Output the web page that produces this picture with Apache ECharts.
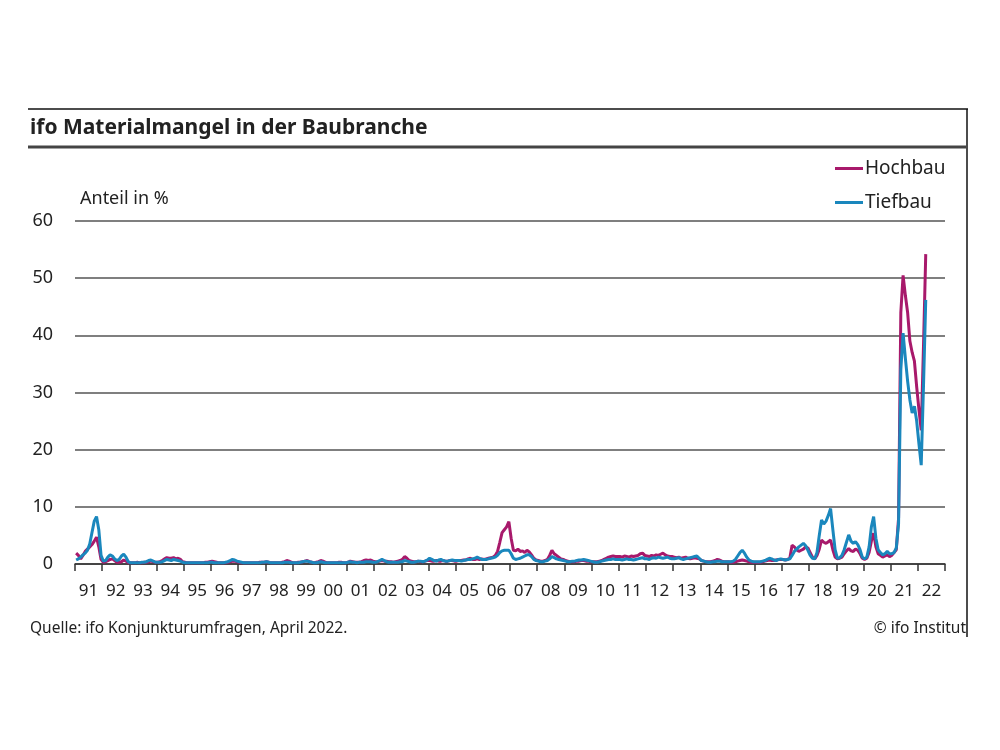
<!DOCTYPE html>
<html>
<head>
<meta charset="utf-8">
<script src="https://cdn.jsdelivr.net/npm/echarts@6/dist/echarts.min.js"></script>
<style>
  html, body { margin: 0; padding: 0; background: #fff; }
  #chart { width: 1000px; height: 750px; }
</style>
</head>
<body>
<div id="chart"></div>
<script>
// Monatswerte ab Januar 1991, Anteil in %
var startYear = 1991;
var yearLabels = ['91','92','93','94','95','96','97','98','99','00','01','02','03','04','05','06',
                  '07','08','09','10','11','12','13','14','15','16','17','18','19','20','21','22'];
var hochbau = [
  1.9,1.5,0.9,1.5,2.2,2.6,3.0,3.4,4.0,4.7,3.0,0.8,   // 1991
  0.3,0.4,0.6,0.8,0.9,0.6,0.3,0.3,0.4,0.7,0.5,0.2,
  0.2,0.2,0.2,0.3,0.2,0.2,0.3,0.3,0.4,0.5,0.4,0.3,
  0.3,0.4,0.6,0.9,1.1,1.0,1.0,1.1,0.9,1.0,0.8,0.4,
  0.3,0.2,0.2,0.2,0.2,0.2,0.2,0.2,0.2,0.3,0.3,0.4,   // 1995
  0.5,0.4,0.3,0.2,0.2,0.2,0.2,0.3,0.4,0.5,0.5,0.4,
  0.3,0.2,0.2,0.2,0.2,0.2,0.2,0.2,0.2,0.3,0.3,0.3,
  0.4,0.3,0.2,0.2,0.2,0.2,0.2,0.3,0.4,0.6,0.5,0.3,
  0.2,0.2,0.3,0.3,0.4,0.5,0.6,0.4,0.3,0.2,0.3,0.4,
  0.6,0.5,0.3,0.2,0.2,0.2,0.2,0.2,0.3,0.3,0.2,0.2,   // 2000
  0.3,0.5,0.4,0.3,0.3,0.3,0.4,0.6,0.7,0.6,0.7,0.5,
  0.4,0.4,0.5,0.6,0.5,0.5,0.4,0.4,0.3,0.4,0.5,0.6,
  0.8,1.3,1.0,0.6,0.5,0.4,0.4,0.5,0.4,0.4,0.5,0.6,
  0.6,0.5,0.5,0.6,0.5,0.5,0.6,0.5,0.5,0.6,0.6,0.5,
  0.5,0.6,0.6,0.7,0.7,0.9,1.0,0.8,0.8,0.9,0.8,0.9,   // 2005
  0.8,0.9,1.0,1.1,1.2,1.5,2.2,3.8,5.5,6.0,6.5,7.4,
  4.5,2.4,2.3,2.6,2.2,2.3,2.0,2.4,2.1,1.6,1.0,0.7,
  0.6,0.5,0.5,0.6,0.8,1.5,2.4,1.8,1.5,1.2,0.9,0.8,
  0.6,0.5,0.4,0.4,0.4,0.5,0.5,0.6,0.6,0.5,0.5,0.4,
  0.4,0.4,0.4,0.5,0.6,0.8,1.0,1.2,1.3,1.4,1.3,1.3,   // 2010
  1.3,1.2,1.4,1.3,1.2,1.4,1.3,1.4,1.5,1.8,1.9,1.5,
  1.4,1.3,1.5,1.4,1.6,1.5,1.7,1.9,1.6,1.4,1.3,1.3,
  1.2,1.1,1.2,1.0,1.1,1.2,1.0,0.9,1.0,1.1,1.0,0.9,
  0.6,0.5,0.4,0.4,0.4,0.5,0.6,0.8,0.7,0.5,0.4,0.4,
  0.4,0.3,0.3,0.4,0.5,0.6,0.7,0.6,0.5,0.4,0.3,0.3,   // 2015
  0.3,0.3,0.3,0.4,0.5,0.6,0.7,0.6,0.6,0.7,0.8,0.8,
  0.8,0.7,0.8,1.0,3.3,3.0,2.5,2.2,2.4,2.6,3.0,2.8,
  2.0,1.2,0.9,1.5,2.6,4.2,3.8,3.6,3.9,4.2,2.5,1.2,
  0.9,1.0,1.2,1.8,2.3,2.7,2.3,2.2,2.6,2.4,1.8,1.0,
  0.8,1.0,2.0,4.0,5.4,3.0,1.8,1.5,1.2,1.4,1.6,1.3,   // 2020
  1.5,2.0,2.5,8.0,44.0,50.5,47.0,44.0,39.0,37.0,35.5,31.0,
  27.0,23.4,38.0,54.2                                  // 2022
];
var tiefbau = [
  0.7,0.9,1.2,1.6,1.9,2.4,3.5,5.5,7.5,8.3,6.0,1.5,   // 1991
  0.5,0.6,1.2,1.6,1.4,0.9,0.6,0.8,1.4,1.7,1.2,0.4,
  0.2,0.2,0.2,0.2,0.2,0.3,0.3,0.4,0.6,0.7,0.5,0.3,
  0.3,0.3,0.4,0.6,0.8,0.7,0.6,0.8,0.7,0.6,0.5,0.3,
  0.2,0.2,0.2,0.2,0.2,0.2,0.2,0.2,0.2,0.2,0.2,0.3,   // 1995
  0.3,0.2,0.2,0.2,0.2,0.2,0.3,0.4,0.6,0.8,0.7,0.5,
  0.4,0.3,0.2,0.2,0.2,0.2,0.2,0.2,0.2,0.2,0.3,0.3,
  0.4,0.3,0.2,0.2,0.2,0.2,0.2,0.2,0.3,0.3,0.3,0.2,
  0.2,0.2,0.2,0.3,0.4,0.5,0.5,0.4,0.3,0.2,0.2,0.3,
  0.4,0.3,0.2,0.2,0.2,0.2,0.2,0.2,0.2,0.2,0.2,0.2,   // 2000
  0.3,0.4,0.3,0.3,0.2,0.3,0.3,0.3,0.4,0.4,0.4,0.3,
  0.3,0.4,0.6,0.8,0.6,0.4,0.3,0.3,0.3,0.3,0.3,0.4,
  0.4,0.6,0.5,0.4,0.3,0.3,0.4,0.5,0.5,0.4,0.5,0.7,
  1.0,0.8,0.6,0.5,0.7,0.8,0.6,0.5,0.5,0.6,0.7,0.6,
  0.6,0.6,0.5,0.6,0.7,0.8,0.8,0.9,1.0,1.2,1.0,0.8,   // 2005
  0.8,0.8,0.9,1.0,1.1,1.2,1.5,2.0,2.3,2.4,2.4,2.4,
  1.8,1.0,0.8,0.9,1.0,1.2,1.4,1.6,1.6,1.3,0.8,0.6,
  0.5,0.4,0.4,0.5,0.6,0.9,1.3,1.1,0.9,0.8,0.7,0.6,
  0.5,0.4,0.4,0.5,0.5,0.6,0.7,0.7,0.8,0.7,0.6,0.5,
  0.4,0.3,0.3,0.4,0.5,0.6,0.7,0.8,0.8,0.9,0.8,0.8,   // 2010
  0.8,0.7,0.8,0.9,0.8,0.8,0.7,0.8,0.9,1.0,1.1,0.9,
  0.9,0.8,1.0,1.1,1.0,1.2,1.1,1.0,1.1,1.2,1.0,0.9,
  0.9,1.0,1.1,0.9,0.8,0.9,1.0,1.1,1.2,1.3,1.4,1.0,
  0.6,0.5,0.4,0.3,0.3,0.4,0.4,0.5,0.5,0.4,0.4,0.4,
  0.4,0.4,0.5,0.8,1.4,2.0,2.4,1.9,1.2,0.7,0.5,0.4,   // 2015
  0.4,0.4,0.4,0.5,0.6,0.8,1.0,0.9,0.7,0.6,0.8,0.9,
  0.8,0.7,0.8,0.9,1.5,2.2,2.6,3.0,3.3,3.6,3.2,2.4,
  1.5,1.0,0.9,2.0,5.0,7.7,7.0,7.5,8.5,9.7,6.0,2.5,
  1.0,1.1,1.5,2.5,3.8,5.1,4.0,3.6,3.9,3.4,2.5,1.2,
  0.9,1.2,3.0,6.5,8.3,4.5,2.5,2.0,1.6,1.8,2.2,1.8,   // 2020
  1.8,2.0,2.8,7.0,34.0,40.4,36.0,32.0,28.7,26.4,27.6,25.0,
  21.0,17.3,31.0,46.2                                  // 2022
];
var yTicks = [0, 10, 20, 30, 40, 50, 60];

function toPoints(values) {
  return values.map(function (v, i) {
    return [startYear + (i + 0.5) / 12, v];
  });
}

var font = '"Noto Sans", sans-serif';
var chart = echarts.init(document.getElementById('chart'), null, {renderer: 'canvas'});

chart.setOption({
  animation: false,
  backgroundColor: '#fff',
  graphic: [
    {type: 'line', shape: {x1: 28, y1: 109, x2: 968, y2: 109}, style: {stroke: '#111', lineWidth: 1.5}},
    {type: 'line', shape: {x1: 967, y1: 109, x2: 967, y2: 637}, style: {stroke: '#111', lineWidth: 1.5}},
    {type: 'line', shape: {x1: 28, y1: 147, x2: 966, y2: 147}, style: {stroke: '#444', lineWidth: 3}},
    {type: 'text', left: 30, top: 118, style: {text: 'ifo Materialmangel in der Baubranche', font: 'bold 21px ' + font, fill: '#222'}},
    {type: 'text', left: 80, top: 190, style: {text: 'Anteil in %', font: '18px ' + font, fill: '#222'}},
    {type: 'text', left: 30, top: 621, style: {text: 'Quelle: ifo Konjunkturumfragen, April 2022.', font: '15.5px ' + font, fill: '#222'}},
    {type: 'text', right: 34, top: 621, style: {text: '© ifo Institut', font: '15.5px ' + font, fill: '#222'}}
  ],
  legend: {
    orient: 'vertical',
    left: 830,
    top: 154,
    itemGap: 15,
    itemWidth: 28,
    itemHeight: 3,
    icon: 'rect',
    textStyle: {fontFamily: font, fontSize: 19, color: '#222', padding: [0, 0, 0, -3]},
    data: ['Hochbau', 'Tiefbau']
  },
  grid: {left: 75, right: 55, top: 221, bottom: 186, containLabel: false},
  xAxis: [
    {
      type: 'category',
      data: yearLabels,
      boundaryGap: true,
      axisLine: {lineStyle: {color: '#333', width: 1.5}},
      axisTick: {show: true, length: 7, interval: 0, lineStyle: {color: '#333', width: 1.5}},
      axisLabel: {interval: 0, margin: 19, fontFamily: font, fontSize: 17, color: '#222'},
      splitLine: {show: false}
    },
    {
      type: 'value',
      min: 1991,
      max: 2023,
      show: false,
      splitLine: {show: false}
    }
  ],
  yAxis: {
    type: 'value',
    min: 0,
    max: 60,
    interval: 10,
    axisLine: {show: false},
    axisTick: {show: false},
    axisLabel: {margin: 22, fontFamily: font, fontSize: 18, color: '#222',
      formatter: function (v) { return yTicks.indexOf(v) >= 0 ? String(v) : ''; }},
    splitLine: {lineStyle: {color: '#555', width: 1.5}}
  },
  series: [
    {
      name: 'Hochbau',
      type: 'line',
      xAxisIndex: 1,
      showSymbol: false,
      data: toPoints(hochbau),
      lineStyle: {color: '#a8196b', width: 3},
      itemStyle: {color: '#a8196b'},
      z: 2
    },
    {
      name: 'Tiefbau',
      type: 'line',
      xAxisIndex: 1,
      showSymbol: false,
      data: toPoints(tiefbau),
      lineStyle: {color: '#1a87bd', width: 3},
      itemStyle: {color: '#1a87bd'},
      z: 3
    }
  ]
});
</script>
</body>
</html>
